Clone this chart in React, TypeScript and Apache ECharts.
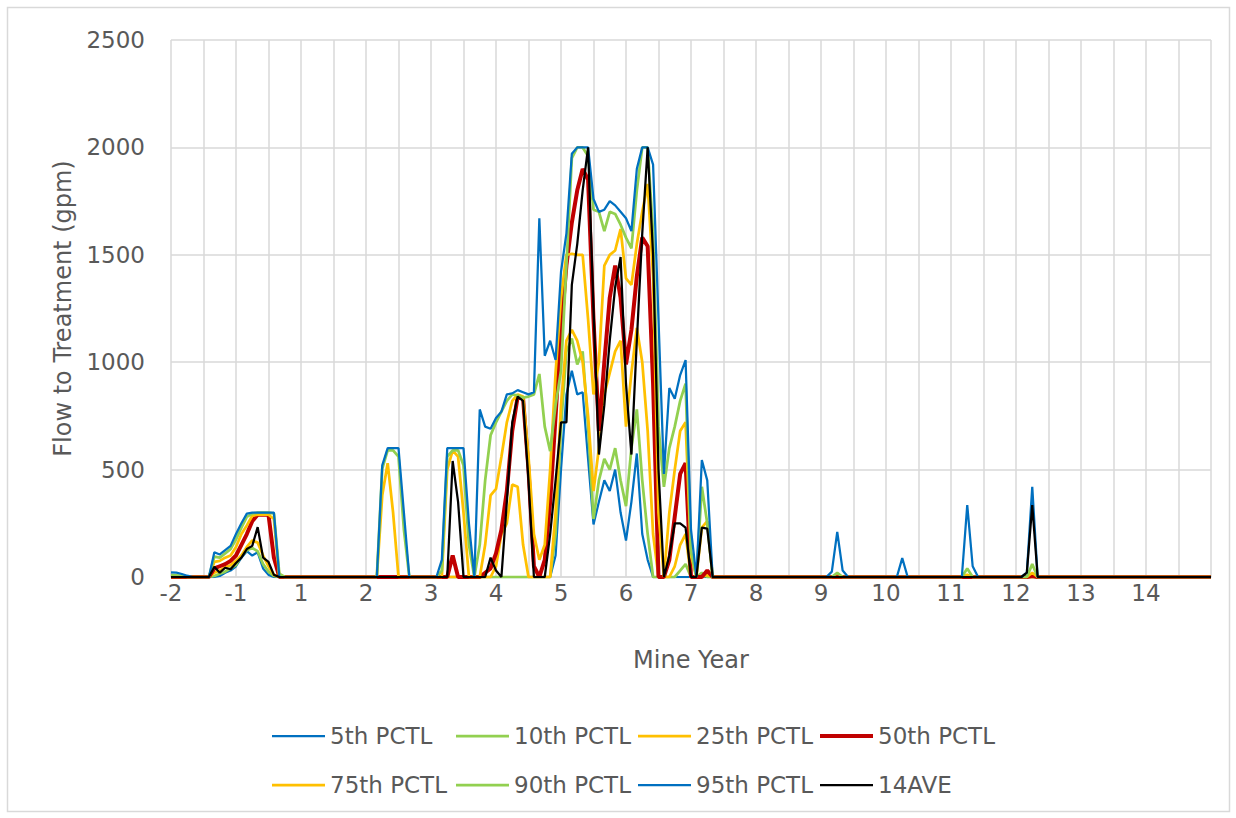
import React, { useEffect, useRef } from "react";
import * as echarts from "echarts";

// Tick labels for every 12 months (Mine Year, there is no year 0)
const yearLabels = ["-2", "-1", "1", "2", "3", "4", "5", "6", "7", "8", "9", "10", "11", "12", "13", "14"];

const seriesNames = ["5th PCTL", "10th PCTL", "25th PCTL", "50th PCTL", "75th PCTL", "90th PCTL", "95th PCTL", "14AVE"];

// Monthly flow to treatment (gpm), one row = one mine year (12 months)
const p5 = [
  0, 0, 0, 0, 0, 0, 0, 0, 0, 5, 20, 30,
  50, 90, 120, 100, 115, 40, 10, 0, 0, 0, 0, 0,
  0, 0, 0, 0, 0, 0, 0, 0, 0, 0, 0, 0,
  0, 0, 0, 0, 0, 0, 0, 0, 0, 0, 0, 0,
  0, 0, 0, 0, 0, 0, 0, 0, 0, 0, 0, 0,
  0, 0, 0, 0, 0, 0, 0, 0, 0, 0, 0, 100,
  500, 850, 960, 850, 860, 550, 245, 350, 450, 400, 500, 300,
  170, 350, 575, 200, 80, 0, 0, 0, 0, 0, 0, 0,
  0, 0, 0, 0, 0, 0, 0, 0, 0, 0, 0, 0,
  0, 0, 0, 0, 0, 0, 0, 0, 0, 0, 0, 0,
  0, 0, 0, 0, 0, 0, 0, 0, 0, 0, 0, 0,
  0, 0, 0, 0, 0, 0, 0, 0, 0, 0, 0, 0,
  0, 0, 0, 0, 0, 0, 0, 0, 0, 0, 0, 0,
  0, 0, 0, 0, 0, 0, 0, 0, 0, 0, 0, 0,
  0, 0, 0, 0, 0, 0, 0, 0, 0, 0, 0, 0,
  0, 0, 0, 0, 0, 0, 0, 0, 0, 0, 0, 0,
  0,
];

const p10 = [
  0, 0, 0, 0, 0, 0, 0, 0, 5, 15, 25, 40,
  55, 100, 125, 135, 120, 60, 25, 5, 0, 0, 0, 0,
  0, 0, 0, 0, 0, 0, 0, 0, 0, 0, 0, 0,
  0, 0, 0, 0, 0, 0, 0, 0, 0, 0, 0, 0,
  0, 0, 0, 0, 0, 0, 0, 0, 0, 0, 0, 0,
  0, 0, 0, 0, 0, 0, 0, 0, 0, 0, 0, 200,
  700, 1050, 1110, 990, 1050, 700, 270, 450, 550, 500, 600, 450,
  330, 600, 780, 450, 200, 0, 0, 0, 0, 0, 30, 60,
  0, 0, 20, 0, 0, 0, 0, 0, 0, 0, 0, 0,
  0, 0, 0, 0, 0, 0, 0, 0, 0, 0, 0, 0,
  0, 0, 0, 0, 0, 0, 0, 0, 0, 0, 0, 0,
  0, 0, 0, 0, 0, 0, 0, 0, 0, 0, 0, 0,
  0, 0, 0, 0, 0, 0, 0, 0, 0, 0, 0, 0,
  0, 0, 0, 0, 0, 0, 0, 0, 0, 0, 0, 0,
  0, 0, 0, 0, 0, 0, 0, 0, 0, 0, 0, 0,
  0, 0, 0, 0, 0, 0, 0, 0, 0, 0, 0, 0,
  0,
];

const p25 = [
  0, 0, 0, 0, 0, 0, 0, 0, 20, 30, 45, 55,
  75, 100, 140, 170, 160, 100, 50, 10, 0, 0, 0, 0,
  0, 0, 0, 0, 0, 0, 0, 0, 0, 0, 0, 0,
  0, 0, 0, 0, 0, 0, 0, 0, 0, 0, 0, 0,
  0, 0, 0, 0, 0, 0, 0, 0, 0, 0, 0, 0,
  50, 200, 250, 430, 420, 150, 0, 0, 0, 0, 0, 300,
  800, 1100, 1150, 1100, 1000, 750, 400, 600, 850, 950, 1050, 1100,
  700, 950, 1160, 1000, 680, 200, 0, 0, 0, 50, 150, 200,
  0, 0, 0, 10, 0, 0, 0, 0, 0, 0, 0, 0,
  0, 0, 0, 0, 0, 0, 0, 0, 0, 0, 0, 0,
  0, 0, 0, 0, 0, 0, 0, 0, 0, 0, 0, 0,
  0, 0, 0, 0, 0, 0, 0, 0, 0, 0, 0, 0,
  0, 0, 0, 0, 0, 0, 0, 0, 0, 0, 0, 0,
  0, 0, 0, 0, 0, 0, 0, 0, 0, 0, 0, 0,
  0, 0, 0, 0, 0, 0, 0, 0, 0, 0, 0, 0,
  0, 0, 0, 0, 0, 0, 0, 0, 0, 0, 0, 0,
  0,
];

const p50 = [
  0, 0, 0, 0, 0, 0, 0, 0, 40, 50, 60, 75,
  100, 150, 200, 260, 290, 290, 290, 90, 0, 0, 0, 0,
  0, 0, 0, 0, 0, 0, 0, 0, 0, 0, 0, 0,
  0, 0, 0, 0, 0, 0, 0, 0, 0, 0, 0, 0,
  0, 0, 0, 0, 100, 0, 0, 0, 0, 0, 20, 40,
  110, 220, 400, 680, 840, 830, 500, 50, 0, 80, 350, 750,
  1150, 1450, 1650, 1800, 1900, 1850, 1200, 680, 1000, 1300, 1450, 1300,
  990, 1150, 1400, 1580, 1540, 900, 0, 0, 80, 280, 480, 530,
  0, 0, 0, 30, 0, 0, 0, 0, 0, 0, 0, 0,
  0, 0, 0, 0, 0, 0, 0, 0, 0, 0, 0, 0,
  0, 0, 0, 0, 0, 0, 0, 0, 0, 0, 0, 0,
  0, 0, 0, 0, 0, 0, 0, 0, 0, 0, 0, 0,
  0, 0, 0, 0, 0, 0, 0, 0, 0, 0, 0, 0,
  0, 0, 0, 5, 0, 0, 0, 0, 0, 0, 0, 0,
  0, 0, 0, 0, 0, 0, 0, 0, 0, 0, 0, 0,
  0, 0, 0, 0, 0, 0, 0, 0, 0, 0, 0, 0,
  0,
];

const p75 = [
  0, 0, 0, 0, 0, 0, 0, 0, 70, 75, 90, 100,
  140, 200, 240, 285, 290, 290, 290, 270, 0, 0, 0, 0,
  0, 0, 0, 0, 0, 0, 0, 0, 0, 0, 0, 0,
  0, 0, 0, 380, 530, 300, 0, 0, 0, 0, 0, 0,
  0, 0, 0, 500, 590, 560, 300, 0, 0, 0, 150, 380,
  410, 560, 720, 820, 850, 840, 560, 200, 80, 150, 500, 950,
  1300, 1500, 1505, 1500, 1500, 1200, 850, 1000, 1450, 1500, 1520, 1620,
  1390, 1360, 1550, 1700, 1830, 1400, 300, 0, 300, 500, 680, 720,
  100, 0, 230, 260, 0, 0, 0, 0, 0, 0, 0, 0,
  0, 0, 0, 0, 0, 0, 0, 0, 0, 0, 0, 0,
  0, 0, 0, 0, 0, 0, 0, 0, 0, 0, 0, 0,
  0, 0, 0, 0, 0, 0, 0, 0, 0, 0, 0, 0,
  0, 0, 0, 10, 0, 0, 0, 0, 0, 0, 0, 0,
  0, 0, 0, 20, 0, 0, 0, 0, 0, 0, 0, 0,
  0, 0, 0, 0, 0, 0, 0, 0, 0, 0, 0, 0,
  0, 0, 0, 0, 0, 0, 0, 0, 0, 0, 0, 0,
  0,
];

const p90 = [
  10, 8, 5, 0, 0, 0, 0, 0, 95, 90, 110, 130,
  175, 230, 280, 295, 300, 300, 300, 295, 15, 0, 0, 0,
  0, 0, 0, 0, 0, 0, 0, 0, 0, 0, 0, 0,
  0, 0, 0, 505, 590, 590, 560, 220, 0, 0, 0, 0,
  0, 0, 30, 560, 590, 590, 520, 150, 0, 150, 450, 660,
  720, 770, 820, 850, 845, 835, 840, 850, 945, 700, 586, 800,
  960, 1450, 1950, 2000, 2000, 1960, 1710, 1700, 1610, 1700, 1690, 1640,
  1580, 1530, 1800, 2000, 2000, 1600, 700, 420, 600, 700, 820, 900,
  120, 0, 420, 250, 0, 0, 0, 0, 0, 0, 0, 0,
  0, 0, 0, 0, 0, 0, 0, 0, 0, 0, 0, 0,
  0, 0, 0, 20, 0, 0, 0, 0, 0, 0, 0, 0,
  0, 0, 0, 0, 0, 0, 0, 0, 0, 0, 0, 0,
  0, 0, 0, 40, 0, 0, 0, 0, 0, 0, 0, 0,
  0, 0, 0, 60, 0, 0, 0, 0, 0, 0, 0, 0,
  0, 0, 0, 0, 0, 0, 0, 0, 0, 0, 0, 0,
  0, 0, 0, 0, 0, 0, 0, 0, 0, 0, 0, 0,
  0,
];

const p95 = [
  22, 20, 14, 6, 0, 0, 0, 0, 115, 105, 125, 145,
  200, 250, 295, 300, 300, 300, 300, 300, 0, 0, 0, 0,
  0, 0, 0, 0, 0, 0, 0, 0, 0, 0, 0, 0,
  0, 0, 0, 520, 600, 600, 600, 300, 0, 0, 0, 0,
  0, 0, 80, 600, 600, 600, 600, 250, 0, 780, 700, 690,
  740, 770, 850, 855, 870, 860, 850, 860, 1670, 1030, 1100, 1010,
  1420, 1600, 1970, 2000, 2000, 2000, 1760, 1700, 1710, 1750, 1730, 1700,
  1670, 1610, 1900, 2000, 2000, 1920, 1200, 480, 880, 830, 940, 1010,
  220, 0, 545, 450, 0, 0, 0, 0, 0, 0, 0, 0,
  0, 0, 0, 0, 0, 0, 0, 0, 0, 0, 0, 0,
  0, 0, 25, 210, 30, 0, 0, 0, 0, 0, 0, 0,
  0, 0, 0, 88, 0, 0, 0, 0, 0, 0, 0, 0,
  0, 0, 0, 335, 50, 0, 0, 0, 0, 0, 0, 0,
  0, 0, 20, 420, 0, 0, 0, 0, 0, 0, 0, 0,
  0, 0, 0, 0, 0, 0, 0, 0, 0, 0, 0, 0,
  0, 0, 0, 0, 0, 0, 0, 0, 0, 0, 0, 0,
  0,
];

const ave14 = [
  0, 0, 0, 0, 0, 0, 0, 0, 48, 20, 43, 36,
  65, 90, 130, 145, 232, 90, 70, 10, 0, 0, 0, 0,
  0, 0, 0, 0, 0, 0, 0, 0, 0, 0, 0, 0,
  0, 0, 0, 0, 0, 0, 0, 0, 0, 0, 0, 0,
  0, 0, 0, 0, 540, 350, 0, 0, 0, 0, 0, 90,
  30, 0, 350, 720, 840, 820, 450, 0, 0, 0, 200, 450,
  720, 720, 1360, 1550, 1800, 2000, 1250, 570, 800, 1100, 1350, 1490,
  900, 570, 1100, 1600, 2000, 1500, 500, 0, 100, 250, 250, 230,
  0, 0, 230, 225, 0, 0, 0, 0, 0, 0, 0, 0,
  0, 0, 0, 0, 0, 0, 0, 0, 0, 0, 0, 0,
  0, 0, 0, 0, 0, 0, 0, 0, 0, 0, 0, 0,
  0, 0, 0, 0, 0, 0, 0, 0, 0, 0, 0, 0,
  0, 0, 0, 0, 0, 0, 0, 0, 0, 0, 0, 0,
  0, 0, 20, 335, 0, 0, 0, 0, 0, 0, 0, 0,
  0, 0, 0, 0, 0, 0, 0, 0, 0, 0, 0, 0,
  0, 0, 0, 0, 0, 0, 0, 0, 0, 0, 0, 0,
  0,
];

const seriesValues = [p5, p10, p25, p50, p75, p90, p95, ave14];
const seriesColors = ["#0070C0", "#92D050", "#FFC000", "#C00000", "#FFC000", "#92D050", "#0070C0", "#000000"];
const seriesWidths = [2.25, 2.75, 2.75, 4, 2.75, 2.75, 2.25, 2.25];

const FONT = "DejaVu Sans";
const TEXT = "#595959";
const GRID = "#D9D9D9";

export default function App() {
  const ref = useRef<HTMLDivElement>(null);

  useEffect(() => {
    if (!ref.current) return;
    const chart = echarts.init(ref.current, null, { renderer: "svg" });

    const legendLefts = [272, 456, 638, 820];
    const legendTops = [723, 772];

    const option: any = {
      animation: false,
      backgroundColor: "#ffffff",
      textStyle: { fontFamily: FONT },
      graphic: [
        {
          type: "rect",
          shape: { x: 7.5, y: 7.5, width: 1222, height: 804 },
          style: { fill: "none", stroke: GRID, lineWidth: 1.5 },
          silent: true,
        },
      ],
      grid: { left: 171, right: 25, top: 40, bottom: 241, containLabel: false },
      xAxis: {
        type: "value",
        min: 0,
        max: 192,
        interval: 6,
        name: "Mine Year",
        nameLocation: "middle",
        nameGap: 71,
        nameTextStyle: { fontSize: 24, color: TEXT, fontFamily: FONT },
        axisLine: { show: true, lineStyle: { color: GRID, width: 1.5 } },
        axisTick: { show: false },
        splitLine: { show: true, lineStyle: { color: GRID, width: 1.5 } },
        axisLabel: {
          fontSize: 23,
          color: TEXT,
          fontFamily: FONT,
          margin: 4,
          showMinLabel: true,
          showMaxLabel: true,
          formatter: (v: number) => (v % 12 === 0 ? yearLabels[v / 12] ?? "" : ""),
        },
      },
      yAxis: {
        type: "value",
        min: 0,
        max: 2500,
        interval: 500,
        name: "Flow to Treatment (gpm)",
        nameLocation: "middle",
        nameGap: 96,
        nameTextStyle: { fontSize: 24, color: TEXT, fontFamily: FONT },
        axisLine: { show: false },
        axisTick: { show: false },
        splitLine: { show: true, lineStyle: { color: GRID, width: 1.5 } },
        axisLabel: {
          fontSize: 23,
          color: TEXT,
          fontFamily: FONT,
          margin: 26,
          formatter: (v: number) => String(v),
        },
      },
      legend: seriesNames.map((n, i) => ({
        data: [{ name: n, icon: "rect" }],
        left: legendLefts[i % 4],
        top: legendTops[Math.floor(i / 4)],
        padding: 0,
        itemWidth: 53,
        itemHeight: seriesWidths[i],
        itemGap: 0,
        selectedMode: false,
        itemStyle: { color: seriesColors[i], borderWidth: 0 },
        textStyle: { fontSize: 23, color: TEXT, fontFamily: FONT, lineHeight: 26 },
      })),
      series: seriesNames.map((n, i) => ({
        name: n,
        type: "line",
        symbol: "none",
        showSymbol: false,
        data: seriesValues[i].map((v, k) => [k, v]),
        lineStyle: { color: seriesColors[i], width: seriesWidths[i] },
        itemStyle: { color: seriesColors[i] },
        emphasis: { disabled: true },
      })),
    };

    chart.setOption(option);
    return () => chart.dispose();
  }, []);

  return (
    <div
      ref={ref}
      style={{ position: "fixed", left: 0, top: 0, width: 1236, height: 818, background: "#fff" }}
    />
  );
}
